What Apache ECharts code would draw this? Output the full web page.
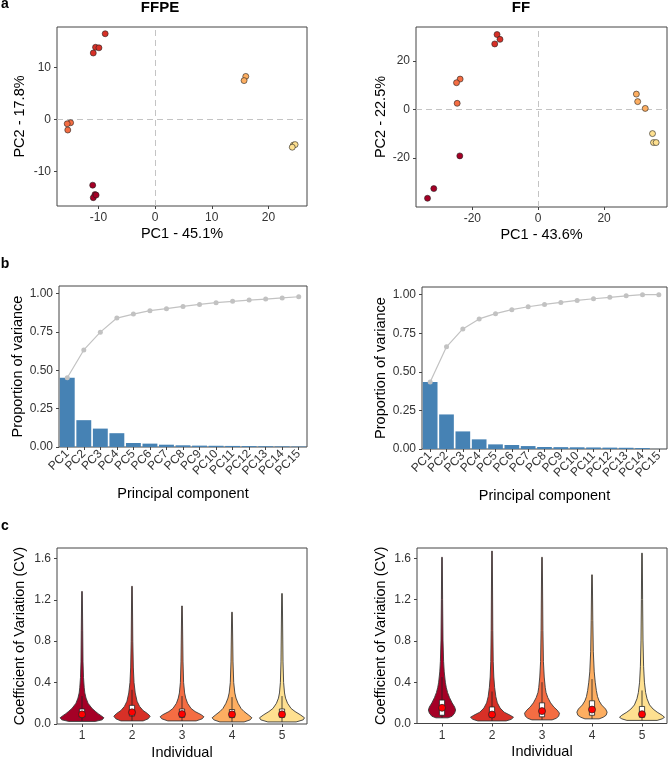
<!DOCTYPE html>
<html>
<head>
<meta charset="utf-8">
<script src="https://cdn.jsdelivr.net/npm/echarts@6/dist/echarts.min.js"></script>
<style>
  html, body { margin: 0; padding: 0; background: #fff; }
  #chart { width: 668px; height: 759px; }
</style>
</head>
<body>
<div id="chart"></div>
<script>
// ---------- data ----------
const individuals = ['1', '2', '3', '4', '5']
const indColors = ['#a50026', '#d73027', '#f46d43', '#fdae61', '#fee090']

// a: PCA scores per individual
const ffpePC1 = [[-11.0, -10.6, -10.9, -10.4], [-8.8, -10.5, -9.9, -10.9], [-14.9, -15.5, -15.4], [16.0, 15.7], [24.4, 24.7, 24.2]]
const ffpePC2 = [[-12.6, -14.4, -15.0, -14.5], [16.5, 13.9, 13.8, 12.8], [-0.6, -0.8, -2.0], [8.3, 7.5], [-4.9, -4.8, -5.3]]
const ffPC1 = [[-23.8, -31.7, -33.6], [-12.5, -11.6, -13.2], [-23.7, -24.8, -24.6], [29.8, 30.2, 32.5], [34.7, 35.0, 35.8]]
const ffPC2 = [[-19.1, -32.6, -36.6], [31.0, 29.0, 27.1], [12.6, 11.1, 2.6], [6.4, 3.3, 0.5], [-9.9, -13.6, -13.6]]
const ffpeXTicks = [-10, 0, 10, 20]
const ffpeYTicks = [-10, 0, 10]
const ffXTicks = [-20, 0, 20]
const ffYTicks = [-20, 0, 20]

// b: scree plots
const pcLabels = ['PC1', 'PC2', 'PC3', 'PC4', 'PC5', 'PC6', 'PC7', 'PC8', 'PC9', 'PC10', 'PC11', 'PC12', 'PC13', 'PC14', 'PC15']
const ffpeVar = [0.452, 0.175, 0.12, 0.09, 0.026, 0.022, 0.015, 0.011, 0.009, 0.008, 0.007, 0.006, 0.005, 0.004, 0.003]
const ffpeCum = [0.452, 0.633, 0.749, 0.841, 0.867, 0.889, 0.902, 0.917, 0.930, 0.941, 0.950, 0.958, 0.965, 0.972, 0.980]
const ffVar = [0.435, 0.224, 0.114, 0.0625, 0.030, 0.026, 0.019, 0.013, 0.012, 0.011, 0.010, 0.009, 0.008, 0.006, 0.0005]
const ffCum = [0.435, 0.662, 0.778, 0.843, 0.877, 0.903, 0.922, 0.937, 0.950, 0.963, 0.974, 0.983, 0.993, 1.0, 1.0]
const varTicks = [0, 0.25, 0.5, 0.75, 1]

// c: CV violins (density profile along CV), box stats [low, q1, median, q3, high], means
const ffpeViolinCv = [
  [0.025, 0.04, 0.06, 0.08, 0.10, 0.12, 0.15, 0.20, 0.25, 0.30, 0.35, 0.45, 0.60, 0.90, 1.28],
  [0.03, 0.05, 0.075, 0.10, 0.13, 0.17, 0.22, 0.30, 0.40, 0.55, 0.80, 1.33],
  [0.03, 0.05, 0.07, 0.09, 0.12, 0.15, 0.20, 0.25, 0.30, 0.40, 0.60, 1.14],
  [0.02, 0.04, 0.06, 0.09, 0.12, 0.15, 0.20, 0.25, 0.30, 0.40, 0.60, 1.08],
  [0.02, 0.04, 0.06, 0.09, 0.12, 0.15, 0.20, 0.25, 0.30, 0.40, 0.60, 1.26]
]
const ffpeViolinDensity = [
  [13, 20, 21.7, 19, 16, 13.5, 10, 6, 4, 2.8, 2.2, 1.5, 1.0, 0.7, 0.3],
  [11, 16, 18, 15.5, 11, 7.5, 5, 3.2, 2, 1.3, 0.8, 0.3],
  [14, 20, 21.7, 19, 13, 9, 5.5, 3.7, 2.6, 1.6, 1.0, 0.3],
  [12, 18, 19.7, 16, 12, 9, 6, 4, 2.8, 1.7, 1.0, 0.3],
  [14, 21, 22.3, 18, 13, 9, 5.5, 3.5, 2.5, 1.6, 1.0, 0.3]
]
const ffViolinCv = [
  [0.055, 0.07, 0.10, 0.13, 0.16, 0.20, 0.25, 0.30, 0.35, 0.40, 0.50, 0.60, 0.80, 1.20, 1.61],
  [0.025, 0.04, 0.06, 0.08, 0.11, 0.15, 0.20, 0.26, 0.35, 0.45, 0.60, 0.90, 1.67],
  [0.035, 0.05, 0.07, 0.10, 0.13, 0.16, 0.20, 0.25, 0.30, 0.35, 0.45, 0.60, 0.90, 1.61],
  [0.045, 0.06, 0.08, 0.11, 0.14, 0.18, 0.22, 0.26, 0.32, 0.40, 0.50, 0.70, 1.00, 1.44],
  [0.03, 0.045, 0.06, 0.08, 0.11, 0.14, 0.18, 0.24, 0.30, 0.40, 0.55, 0.80, 1.20, 1.65]
]
const ffViolinDensity = [
  [6, 10, 12.5, 13.5, 12.5, 10, 7.5, 5.5, 4.2, 3.3, 2.2, 1.6, 1.0, 0.6, 0.3],
  [14, 19, 21.3, 18, 12, 8, 5.3, 3.8, 2.6, 1.8, 1.2, 0.8, 0.3],
  [10, 14, 16.5, 17.3, 15, 11.7, 8.5, 5.8, 4, 3.2, 2.2, 1.4, 0.9, 0.3],
  [7, 11, 14, 15, 13.5, 9.5, 7, 5.5, 4.3, 3.2, 2.2, 1.3, 0.8, 0.3],
  [15, 20, 22.3, 20, 15, 11, 7.5, 5, 3.6, 2.4, 1.6, 1.0, 0.6, 0.3]
]
const ffpeBox = [
  [0.03, 0.064, 0.085, 0.145, 0.27],
  [0.03, 0.077, 0.105, 0.18, 0.33],
  [0.03, 0.064, 0.088, 0.145, 0.27],
  [0.02, 0.062, 0.085, 0.14, 0.26],
  [0.02, 0.064, 0.085, 0.145, 0.27]
]
const ffBox = [
  [0.055, 0.08, 0.14, 0.227, 0.45],
  [0.025, 0.06, 0.08, 0.16, 0.31],
  [0.035, 0.065, 0.11, 0.2, 0.4],
  [0.045, 0.08, 0.125, 0.22, 0.43],
  [0.03, 0.06, 0.08, 0.165, 0.32]
]
const ffpeMean = [0.093, 0.113, 0.096, 0.093, 0.093]
const ffMean = [0.152, 0.087, 0.12, 0.135, 0.09]
const cvTicks = [0, 0.4, 0.8, 1.2, 1.6]

// ---------- helpers ----------
const FONT = '"Liberation Sans", Arial, sans-serif'
const frame = '#444'

const maxDensity = Math.max(...ffpeViolinDensity.flat(), ...ffViolinDensity.flat())

function valueAxis (gridIndex, min, max, ticks, name, nameGap, digits) {
  return {
    type: 'value', gridIndex, min, max, name, nameGap,
    nameLocation: 'middle',
    nameTextStyle: { fontFamily: FONT, fontSize: 14.5, color: '#000' },
    axisLine: { show: false, onZero: false },
    axisTick: { show: true, length: 3, customValues: ticks, lineStyle: { color: frame, width: 1 } },
    axisLabel: {
      customValues: ticks, margin: 6, fontFamily: FONT, fontSize: 12, color: '#333',
      formatter: v => digits ? Number(v).toFixed(digits) : String(Math.round(v))
    },
    splitLine: { show: false }
  }
}

function categoryAxis (gridIndex, data, name, nameGap, rotate) {
  return {
    type: 'category', gridIndex, data, name, nameGap,
    nameLocation: 'middle',
    nameTextStyle: { fontFamily: FONT, fontSize: 14.5, color: '#000' },
    axisLine: { show: false },
    axisTick: { show: true, alignWithLabel: true, length: 3, lineStyle: { color: frame, width: 1 } },
    axisLabel: { interval: 0, rotate: rotate || 0, margin: rotate ? 5 : 6, fontFamily: FONT, fontSize: 12, color: '#333' },
    splitLine: { show: false }
  }
}

function scatterSeries (axisIndex, pc1, pc2) {
  return pc1.map((xs, i) => ({
    type: 'scatter', xAxisIndex: axisIndex, yAxisIndex: axisIndex,
    data: xs.map((x, k) => [x, pc2[i][k]]),
    symbol: 'circle', symbolSize: 6, z: 5,
    itemStyle: { color: indColors[i], borderColor: '#222', borderWidth: 0.6, opacity: 1 },
    markLine: i === 0 ? {
      silent: true, symbol: 'none', label: { show: false },
      lineStyle: { color: '#c4c4c4', type: [6, 4], width: 1 },
      data: [{ xAxis: 0 }, { yAxis: 0 }]
    } : undefined
  }))
}

function screeSeries (axisIndex, vars, cum) {
  return [
    {
      type: 'bar', xAxisIndex: axisIndex, yAxisIndex: axisIndex, data: vars,
      barCategoryGap: '10%', itemStyle: { color: '#4682b4' }
    },
    {
      type: 'line', xAxisIndex: axisIndex, yAxisIndex: axisIndex, data: cum,
      symbol: 'circle', symbolSize: 5, z: 4,
      lineStyle: { color: '#c2c2c2', width: 1.2 },
      itemStyle: { color: '#c2c2c2' }
    }
  ]
}

function violinSeries (axisIndex, cvList, denList, box, means) {
  return [
    {
      type: 'custom', xAxisIndex: axisIndex, yAxisIndex: axisIndex,
      data: individuals.map((n, i) => [i, box[i][2]]),
      encode: { x: 0, y: 1 },
      renderItem: (params, api) => {
        const i = api.value(0)
        const band = api.size([1, 0])[0]
        const left = []
        const right = []
        cvList[i].forEach((cv, k) => {
          const p = api.coord([i, cv])
          const hw = band * 0.45 * denList[i][k] / maxDensity
          left.push([p[0] - hw, p[1]])
          right.push([p[0] + hw, p[1]])
        })
        return {
          type: 'polygon',
          shape: { points: left.concat(right.reverse()) },
          style: { fill: indColors[i], stroke: '#3a3a3a', lineWidth: 0.9, lineJoin: 'round' }
        }
      },
      z: 2
    },
    {
      // ggplot-style boxplot: whisker line without caps, white box, median line
      type: 'custom', xAxisIndex: axisIndex, yAxisIndex: axisIndex,
      data: box.map((b, i) => [i, b[0], b[1], b[2], b[3], b[4]]),
      encode: { x: 0, y: [1, 5] },
      renderItem: (params, api) => {
        const i = api.value(0)
        const lo = api.coord([i, api.value(1)])
        const q1 = api.coord([i, api.value(2)])
        const md = api.coord([i, api.value(3)])
        const q3 = api.coord([i, api.value(4)])
        const hi = api.coord([i, api.value(5)])
        const hw = 2.6
        const st = { stroke: '#222', lineWidth: 0.8, fill: null }
        return {
          type: 'group',
          children: [
            { type: 'line', shape: { x1: lo[0], y1: lo[1], x2: q1[0], y2: q1[1] }, style: st },
            { type: 'line', shape: { x1: q3[0], y1: q3[1], x2: hi[0], y2: hi[1] }, style: st },
            { type: 'rect', shape: { x: q3[0] - hw, y: q3[1], width: hw * 2, height: q1[1] - q3[1] }, style: { fill: '#fff', stroke: '#222', lineWidth: 0.8 } },
            { type: 'line', shape: { x1: md[0] - hw, y1: md[1], x2: md[0] + hw, y2: md[1] }, style: st }
          ]
        }
      },
      z: 3
    },
    {
      type: 'scatter', xAxisIndex: axisIndex, yAxisIndex: axisIndex,
      data: means.map((m, i) => [i, m]),
      symbol: 'circle', symbolSize: 7, z: 10,
      itemStyle: { color: '#ff0000', borderColor: '#222', borderWidth: 0.7, opacity: 1 }
    }
  ]
}

function label (text, x, y, size, bold) {
  return {
    type: 'text', x, y,
    style: { text, fill: '#000', font: (bold ? 'bold ' : '') + size + 'px ' + FONT, align: 'center', verticalAlign: 'middle' }
  }
}

// ---------- chart ----------
const gridBase = { show: true, borderColor: frame, borderWidth: 1, backgroundColor: 'transparent', outerBoundsMode: 'none', containLabel: false }

const chart = echarts.init(document.getElementById('chart'), null, { renderer: 'canvas' })
chart.setOption({
  animation: false,
  backgroundColor: '#fff',
  textStyle: { fontFamily: FONT },
  graphic: [
    label('a', 5, 4, 14, true),
    label('FFPE', 160, 8, 15, true),
    label('FF', 521, 8, 15, true),
    label('b', 5, 264, 14, true),
    label('c', 5, 526, 14, true)
  ],
  grid: [
    { ...gridBase, left: 57, top: 27, width: 250, height: 179 },
    { ...gridBase, left: 416, top: 27, width: 251, height: 180 },
    { ...gridBase, left: 59, top: 286, width: 248, height: 161 },
    { ...gridBase, left: 422, top: 287, width: 245, height: 162 },
    { ...gridBase, left: 57, top: 548, width: 250, height: 176 },
    { ...gridBase, left: 417, top: 548, width: 250, height: 175.5 }
  ],
  xAxis: [
    valueAxis(0, -17.3, 26.8, ffpeXTicks, 'PC1 - 45.1%', 20, 0),
    valueAxis(1, -37.1, 39.1, ffXTicks, 'PC1 - 43.6%', 20, 0),
    categoryAxis(2, pcLabels, 'Principal component', 39, 45),
    categoryAxis(3, pcLabels, 'Principal component', 39, 45),
    categoryAxis(4, individuals, 'Individual', 21),
    categoryAxis(5, individuals, 'Individual', 21)
  ],
  yAxis: [
    valueAxis(0, -16.6, 17.8, ffpeYTicks, 'PC2 - 17.8%', 30, 0),
    valueAxis(1, -40.2, 34.1, ffYTicks, 'PC2 - 22.5%', 28, 0),
    valueAxis(2, 0, 1.05, varTicks, 'Proportion of variance', 30, 2),
    valueAxis(3, 0, 1.05, varTicks, 'Proportion of variance', 34, 2),
    valueAxis(4, 0, 1.70, cvTicks, 'Coefficient of Variation (CV)', 30, 1),
    valueAxis(5, 0, 1.70, cvTicks, 'Coefficient of Variation (CV)', 29, 1)
  ],
  series: [
    ...scatterSeries(0, ffpePC1, ffpePC2),
    ...scatterSeries(1, ffPC1, ffPC2),
    ...screeSeries(2, ffpeVar, ffpeCum),
    ...screeSeries(3, ffVar, ffCum),
    ...violinSeries(4, ffpeViolinCv, ffpeViolinDensity, ffpeBox, ffpeMean),
    ...violinSeries(5, ffViolinCv, ffViolinDensity, ffBox, ffMean)
  ]
})
</script>
</body>
</html>
